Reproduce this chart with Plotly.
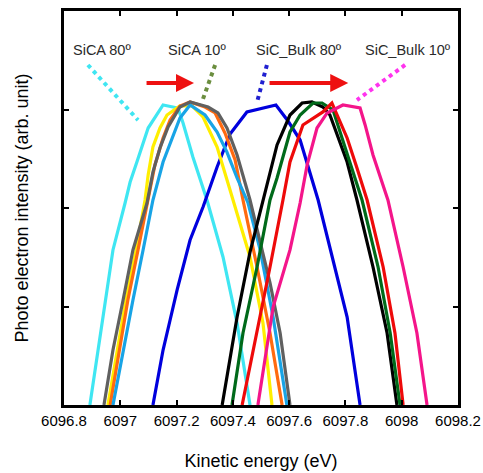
import plotly.graph_objects as go

# ---- data (kinetic energy in eV, intensity in arb. units) ----
sica80_x = [6096.892, 6096.921, 6096.946, 6096.974, 6097.017, 6097.035, 6097.059, 6097.099,
            6097.152, 6097.205, 6097.223, 6097.258, 6097.308, 6097.365, 6097.415, 6097.461]
sica80_y = [0, 0.558, 1.066, 1.574, 2.051, 2.264, 2.467, 2.812, 3.046, 3.015, 2.863, 2.518,
            2.081, 1.503, 0.832, 0]

yellow_x = [6096.956, 6096.988, 6097.020, 6097.056, 6097.088, 6097.099, 6097.116, 6097.141,
            6097.166, 6097.212, 6097.255, 6097.294, 6097.344, 6097.390, 6097.461, 6097.507, 6097.539]
yellow_y = [0, 0.558, 1.066, 1.574, 2.081, 2.335, 2.619, 2.812, 2.944, 3.036, 3.036, 2.924,
            2.619, 2.183, 1.503, 0.832, 0]

orange_x = [6096.964, 6096.996, 6097.027, 6097.063, 6097.099, 6097.123, 6097.152, 6097.177,
            6097.212, 6097.248, 6097.301, 6097.337, 6097.372, 6097.408, 6097.436, 6097.486,
            6097.532, 6097.575]
orange_y = [0, 0.558, 1.066, 1.574, 2.081, 2.437, 2.711, 2.893, 3.036, 3.076, 3.025, 2.965,
            2.761, 2.487, 2.081, 1.401, 0.731, 0]

skyblue_x = [6096.974, 6097.010, 6097.045, 6097.081, 6097.116, 6097.152, 6097.184, 6097.212,
             6097.248, 6097.301, 6097.344, 6097.379, 6097.415, 6097.454, 6097.497, 6097.543, 6097.592]
skyblue_y = [0, 0.558, 1.066, 1.574, 2.081, 2.467, 2.711, 2.914, 3.046, 2.944, 2.772, 2.568,
             2.305, 2.051, 1.574, 0.893, 0]

sica10_x = [6096.942, 6096.974, 6097.010, 6097.045, 6097.095, 6097.116, 6097.141, 6097.170,
            6097.212, 6097.248, 6097.312, 6097.347, 6097.379, 6097.415, 6097.461, 6097.497,
            6097.532, 6097.568, 6097.603]
sica10_y = [0, 0.558, 1.066, 1.574, 2.051, 2.365, 2.609, 2.822, 3.025, 3.076, 3.025, 2.965,
            2.812, 2.538, 2.081, 1.645, 1.239, 0.731, 0]

bulk80_x = [6097.116, 6097.152, 6097.177, 6097.202, 6097.248, 6097.294, 6097.344, 6097.390,
            6097.450, 6097.553, 6097.596, 6097.639, 6097.703, 6097.756, 6097.806, 6097.852]
bulk80_y = [0, 0.558, 0.863, 1.168, 1.675, 2.010, 2.416, 2.751, 2.975, 3.046, 2.883, 2.690,
            2.081, 1.472, 0.893, 0]

black_x = [6097.362, 6097.390, 6097.415, 6097.461, 6097.507, 6097.532, 6097.557, 6097.603,
           6097.646, 6097.681, 6097.720, 6097.745, 6097.770, 6097.806, 6097.841, 6097.898,
           6097.948, 6097.983]
black_y = [0, 0.457, 0.893, 1.553, 2.081, 2.365, 2.640, 2.944, 3.066, 3.076, 3.025, 2.944,
           2.741, 2.467, 2.081, 1.401, 0.731, 0]

green_x = [6097.397, 6097.436, 6097.486, 6097.532, 6097.557, 6097.603, 6097.639, 6097.685,
           6097.717, 6097.756, 6097.781, 6097.816, 6097.859, 6097.916, 6097.959, 6097.994]
green_y = [0, 0.731, 1.401, 2.081, 2.305, 2.772, 2.944, 3.066, 3.066, 2.995, 2.772, 2.467,
           2.081, 1.401, 0.731, 0]

red_x = [6097.433, 6097.486, 6097.532, 6097.578, 6097.603, 6097.649, 6097.685, 6097.720,
         6097.752, 6097.770, 6097.806, 6097.841, 6097.877, 6097.934, 6097.976, 6098.005]
red_y = [0, 0.731, 1.401, 2.081, 2.467, 2.843, 2.914, 2.975, 3.066, 2.944, 2.711, 2.406,
         2.081, 1.401, 0.731, 0]

bulk10_x = [6097.489, 6097.543, 6097.603, 6097.639, 6097.664, 6097.699, 6097.735, 6097.791,
            6097.852, 6097.870, 6097.898, 6097.951, 6098.005, 6098.054, 6098.090]
bulk10_y = [0, 0.995, 1.574, 2.051, 2.437, 2.812, 2.965, 3.046, 3.015, 2.843, 2.538, 2.081,
            1.401, 0.731, 0]

x_tickvals = [6096.8, 6097.0, 6097.2, 6097.4, 6097.6, 6097.8, 6098.0, 6098.2]
x_ticktext = ["6096.8", "6097", "6097.2", "6097.4", "6097.6", "6097.8", "6098", "6098.2"]
y_tickvals = [1, 2, 3]

series = [
    (sica80_x, sica80_y, "#3fe6f2"),
    (bulk80_x, bulk80_y, "#0000dd"),
    (yellow_x, yellow_y, "#ffee00"),
    (orange_x, orange_y, "#ff6a10"),
    (skyblue_x, skyblue_y, "#18a4e6"),
    (sica10_x, sica10_y, "#606060"),
    (black_x, black_y, "#000000"),
    (green_x, green_y, "#006a1a"),
    (red_x, red_y, "#ee0a0a"),
    (bulk10_x, bulk10_y, "#f4158a"),
]

fig = go.Figure()
for xs, ys, col in series:
    fig.add_trace(go.Scatter(x=xs, y=ys, mode="lines",
                             line=dict(color=col, width=3.2), showlegend=False,
                             cliponaxis=True))

# label leader lines (dotted)
leaders = [
    (6096.885, 3.452, 6097.063, 2.893, "#3fe6f2"),
    (6097.337, 3.452, 6097.290, 3.076, "#6b8e3f"),
    (6097.521, 3.452, 6097.486, 3.076, "#2020d0"),
    (6098.012, 3.452, 6097.841, 3.096, "#ff33ee"),
]
for x0, y0, x1, y1, col in leaders:
    fig.add_shape(type="line", x0=x0, y0=y0, x1=x1, y1=y1, xref="x", yref="y",
                  line=dict(color=col, width=4, dash="dot"))

labels = [
    (6096.935, "SiCA 80º"),
    (6097.273, "SiCA 10º"),
    (6097.635, "SiC_Bulk 80º"),
    (6098.023, "SiC_Bulk 10º"),
]
for lx, txt in labels:
    fig.add_annotation(x=lx, y=3.604, xref="x", yref="y", text=txt, showarrow=False,
                       font=dict(family="Liberation Sans, Arial", size=14.5, color="#2a2a2a"))

arrows = [
    (6097.088, 6097.262),
    (6097.525, 6097.810),
]
for tx, hx in arrows:
    fig.add_annotation(x=hx, y=3.269, ax=tx, ay=3.269, xref="x", yref="y",
                       axref="x", ayref="y", text="", showarrow=True,
                       arrowhead=2, arrowsize=0.9, arrowwidth=4, arrowcolor="#ee1111")

fig.update_layout(
    width=483, height=473,
    margin=dict(l=64, r=25, t=11, b=68),
    paper_bgcolor="white", plot_bgcolor="white",
    font=dict(family="Liberation Sans, Arial", color="#000000"),
)
fig.update_xaxes(
    range=[6096.8, 6098.2], tickvals=x_tickvals, ticktext=x_ticktext,
    ticks="inside", ticklen=5, tickwidth=1.5, tickcolor="#000000",
    showline=True, linewidth=2.5, linecolor="#000000", mirror="ticks",
    showgrid=False, zeroline=False, automargin=False,
    tickfont=dict(size=15, color="#000000"),
    title=dict(text="Kinetic energy (eV)", font=dict(size=18, color="#000000"), standoff=27),
)
fig.update_yaxes(
    range=[0, 4], tickvals=y_tickvals, showticklabels=False,
    ticks="inside", ticklen=5, tickwidth=1.5, tickcolor="#000000",
    showline=True, linewidth=2.5, linecolor="#000000", mirror="ticks",
    showgrid=False, zeroline=False, automargin=False,
    title=dict(text="Photo electron intensity (arb. unit)", font=dict(size=18, color="#000000"),
               standoff=28),
)

fig.write_html("out.html", config={"displayModeBar": False},
               post_script="document.body.style.margin='0px';")
